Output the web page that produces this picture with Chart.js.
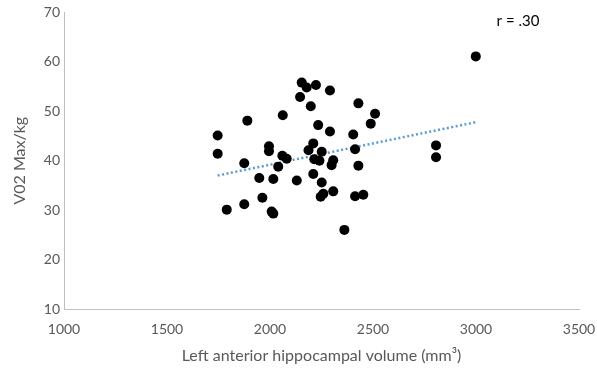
<!DOCTYPE html>
<html lang="en">
<head>
    <meta charset="UTF-8">
    <title>VO2 max vs left anterior hippocampal volume</title>
    <script src="https://cdn.jsdelivr.net/npm/chart.js"></script>
    <style>
        html, body { margin: 0; padding: 0; background: #fff; }
        #wrap { width: 597px; height: 373px; }
    </style>
</head>
<body>
    <div id="wrap"><canvas id="scatter"></canvas></div>
    <script>
        // values
        const volume = [2154, 2178, 2223, 2291, 2146, 2198, 2429, 2510, 2489, 2234,
                        2291, 2404, 2210, 2187, 2251, 2413, 2215, 2240, 2307, 2299,
                        2429, 2130, 2210, 2251, 2259, 2246, 2307, 2413, 2453, 2361,
                        1890, 2062, 1746, 1746, 1995, 1995, 2060, 2081, 1875, 2040,
                        1948, 2016, 1963, 1875, 1790, 2008, 2016, 2806, 2806, 2999];
        const vo2 = [55.8, 54.8, 55.3, 54.2, 52.9, 51.0, 51.6, 49.5, 47.5, 47.2,
                     45.9, 45.3, 43.5, 42.1, 41.8, 42.3, 40.3, 40.0, 40.1, 39.1,
                     39.0, 36.0, 37.3, 35.6, 33.3, 32.7, 33.8, 32.8, 33.1, 26.0,
                     48.1, 49.2, 45.1, 41.4, 42.9, 41.9, 41.0, 40.4, 39.5, 38.8,
                     36.5, 36.3, 32.5, 31.2, 30.1, 29.7, 29.3, 43.1, 40.7, 61.1];
        const trendX = [1746, 3000];
        const trendY = [37.0, 47.8];
        const corrLabel = 'r = .30';

        const points = volume.map((v, i) => ({ x: v, y: vo2[i] }));
        const trend = trendX.map((v, i) => ({ x: v, y: trendY[i] }));

        const textFont = "'Lato', 'Liberation Sans', sans-serif";
        const grey = '#595959';

        const corrNote = {
            id: 'corrNote',
            afterDraw(chart) {
                const ctx = chart.ctx;
                ctx.save();
                ctx.font = '15px ' + textFont;
                ctx.fillStyle = '#000';
                ctx.textAlign = 'center';
                ctx.textBaseline = 'middle';
                ctx.fillText(corrLabel, 518, 21);
                ctx.restore();
            }
        };

        new Chart(document.getElementById('scatter'), {
            type: 'scatter',
            data: {
                datasets: [{
                    data: trend,
                    showLine: true,
                    borderColor: '#5b9bd5',
                    borderWidth: 2.5,
                    borderDash: [2, 2.5],
                    pointRadius: 0,
                    order: 2
                }, {
                    data: points,
                    backgroundColor: '#000',
                    borderWidth: 0,
                    pointRadius: 5,
                    order: 1
                }]
            },
            options: {
                responsive: true,
                maintainAspectRatio: false,
                animation: false,
                layout: { padding: { left: 0, right: 18, top: 0, bottom: 0 } },
                plugins: {
                    legend: { display: false },
                    tooltip: { enabled: false }
                },
                scales: {
                    x: {
                        type: 'linear',
                        min: 1000, max: 3500,
                        grid: { display: false, drawTicks: false },
                        border: { display: true, color: '#bfbfbf', width: 1 },
                        ticks: { stepSize: 500, padding: 12, color: grey, font: { family: textFont, size: 14 },
                                 callback: v => String(v) },
                        title: { display: true, text: 'Left anterior hippocampal volume (mm³)', color: grey,
                                 font: { family: textFont, size: 16 }, padding: { top: 6, bottom: 8 } },
                        afterFit(scale) {
                            scale.height = 64;
                            scale.paddingLeft = 0;
                            scale.paddingRight = 0;
                        }
                    },
                    y: {
                        min: 10, max: 70,
                        grid: { display: false, drawTicks: false },
                        border: { display: true, color: '#bfbfbf', width: 1 },
                        ticks: { stepSize: 10, padding: 4, color: grey, font: { family: textFont, size: 14 } },
                        title: { display: true, text: 'V02 Max/kg', color: grey,
                                 font: { family: textFont, size: 16 }, padding: { top: 10, bottom: 4 } },
                        afterFit(scale) { scale.width = 64; }
                    }
                }
            },
            plugins: [corrNote]
        });
    </script>
</body>
</html>
